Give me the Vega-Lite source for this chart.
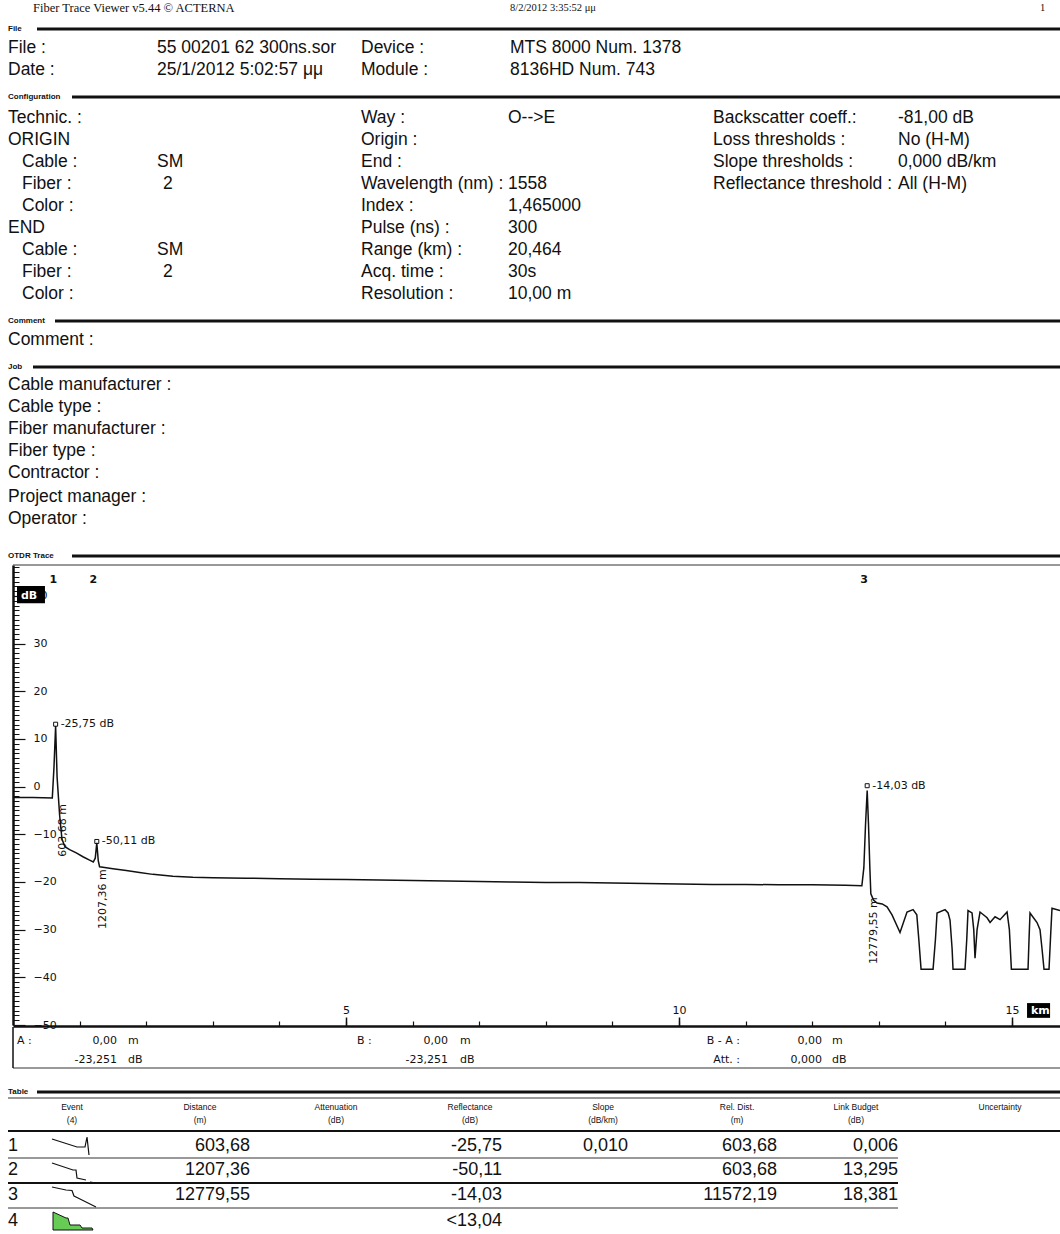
{
  "$schema": "https://vega.github.io/schema/vega-lite/v6.json",
  "width": 1060,
  "height": 1234,
  "autosize": "none",
  "padding": 0,
  "background": "white",
  "config": {"view": {"stroke": null}},
  "datasets": {
    "header": [
      {"tab": 4, "row": 0, "text": "Fiber Trace Viewer v5.44 © ACTERNA", "part": "title"},
      {"tab": 22, "row": 0, "text": "8/2/2012 3:35:52 μμ", "part": "date"},
      {"tab": 34, "row": 0, "text": "1", "part": "page"}
    ],
    "sections": [
      {"row": 1, "tab": 0, "from": 5, "text": "File"},
      {"row": 4, "tab": 0, "from": 7, "text": "Configuration"},
      {"row": 14, "tab": 0, "from": 6, "text": "Comment"},
      {"row": 16, "tab": 0, "from": 4, "text": "Job"},
      {"row": 24, "tab": 0, "from": 7, "text": "OTDR Trace"},
      {"row": 30, "tab": 0, "from": 5, "text": "Table"}
    ],
    "fields": [
      {"row": 2, "tab": 0, "text": "File :"},
      {"row": 2, "tab": 10, "text": "55 00201 62 300ns.sor"},
      {"row": 2, "tab": 16, "text": "Device :"},
      {"row": 2, "tab": 22, "text": "MTS 8000 Num. 1378"},
      {"row": 3, "tab": 0, "text": "Date :"},
      {"row": 3, "tab": 10, "text": "25/1/2012 5:02:57 μμ"},
      {"row": 3, "tab": 16, "text": "Module :"},
      {"row": 3, "tab": 22, "text": "8136HD Num. 743"},
      {"row": 5, "tab": 0, "text": "Technic. :"},
      {"row": 5, "tab": 16, "text": "Way :"},
      {"row": 5, "tab": 21, "text": "O-->E"},
      {"row": 5, "tab": 25, "text": "Backscatter coeff.:"},
      {"row": 5, "tab": 32, "text": "-81,00 dB"},
      {"row": 6, "tab": 0, "text": "ORIGIN"},
      {"row": 6, "tab": 16, "text": "Origin :"},
      {"row": 6, "tab": 25, "text": "Loss thresholds :"},
      {"row": 6, "tab": 32, "text": "No (H-M)"},
      {"row": 7, "tab": 3, "text": "Cable :"},
      {"row": 7, "tab": 10, "text": "SM"},
      {"row": 7, "tab": 16, "text": "End :"},
      {"row": 7, "tab": 25, "text": "Slope thresholds :"},
      {"row": 7, "tab": 32, "text": "0,000 dB/km"},
      {"row": 8, "tab": 3, "text": "Fiber :"},
      {"row": 8, "tab": 11, "text": "2"},
      {"row": 8, "tab": 16, "text": "Wavelength (nm) :"},
      {"row": 8, "tab": 21, "text": "1558"},
      {"row": 8, "tab": 25, "text": "Reflectance threshold :"},
      {"row": 8, "tab": 32, "text": "All (H-M)"},
      {"row": 9, "tab": 3, "text": "Color :"},
      {"row": 9, "tab": 16, "text": "Index :"},
      {"row": 9, "tab": 21, "text": "1,465000"},
      {"row": 10, "tab": 0, "text": "END"},
      {"row": 10, "tab": 16, "text": "Pulse (ns) :"},
      {"row": 10, "tab": 21, "text": "300"},
      {"row": 11, "tab": 3, "text": "Cable :"},
      {"row": 11, "tab": 10, "text": "SM"},
      {"row": 11, "tab": 16, "text": "Range (km) :"},
      {"row": 11, "tab": 21, "text": "20,464"},
      {"row": 12, "tab": 3, "text": "Fiber :"},
      {"row": 12, "tab": 11, "text": "2"},
      {"row": 12, "tab": 16, "text": "Acq. time :"},
      {"row": 12, "tab": 21, "text": "30s"},
      {"row": 13, "tab": 3, "text": "Color :"},
      {"row": 13, "tab": 16, "text": "Resolution :"},
      {"row": 13, "tab": 21, "text": "10,00 m"},
      {"row": 15, "tab": 0, "text": "Comment :"},
      {"row": 17, "tab": 0, "text": "Cable manufacturer :"},
      {"row": 18, "tab": 0, "text": "Cable type :"},
      {"row": 19, "tab": 0, "text": "Fiber manufacturer :"},
      {"row": 20, "tab": 0, "text": "Fiber type :"},
      {"row": 21, "tab": 0, "text": "Contractor :"},
      {"row": 22, "tab": 0, "text": "Project manager :"},
      {"row": 23, "tab": 0, "text": "Operator :"}
    ],
    "thin_rules": [
      {"row": 25, "tab": 1, "to": 35},
      {"row": 29, "tab": 1, "to": 35},
      {"row": 31, "tab": 0, "to": 35},
      {"row": 36, "tab": 0, "to": 32},
      {"row": 40, "tab": 0, "to": 32}
    ],
    "thick_rules": [
      {"row": 34, "tab": 0, "to": 35},
      {"row": 38, "tab": 0, "to": 32}
    ],
    "vrules": [
      {"tab": 1, "row": 26, "row2": 29}
    ],
    "cursor_left": [
      {"row": 27, "tab": 2, "text": "A :"},
      {"row": 27, "tab": 9, "text": "m"},
      {"row": 28, "tab": 9, "text": "dB"},
      {"row": 27, "tab": 15, "text": "B :"},
      {"row": 27, "tab": 18, "text": "m"},
      {"row": 28, "tab": 18, "text": "dB"},
      {"row": 27, "tab": 30, "text": "m"},
      {"row": 28, "tab": 30, "text": "dB"}
    ],
    "cursor_right": [
      {"row": 27, "tab": 8, "text": "0,00"},
      {"row": 28, "tab": 8, "text": "-23,251"},
      {"row": 27, "tab": 17, "text": "0,00"},
      {"row": 28, "tab": 17, "text": "-23,251"},
      {"row": 27, "tab": 27, "text": "B - A :"},
      {"row": 28, "tab": 27, "text": "Att. :"},
      {"row": 27, "tab": 29, "text": "0,00"},
      {"row": 28, "tab": 29, "text": "0,000"}
    ],
    "table_head": [
      {"row": 32, "tab": 7, "text": "Event"},
      {"row": 33, "tab": 7, "text": "(4)"},
      {"row": 32, "tab": 12, "text": "Distance"},
      {"row": 33, "tab": 12, "text": "(m)"},
      {"row": 32, "tab": 14, "text": "Attenuation"},
      {"row": 33, "tab": 14, "text": "(dB)"},
      {"row": 32, "tab": 19, "text": "Reflectance"},
      {"row": 33, "tab": 19, "text": "(dB)"},
      {"row": 32, "tab": 23, "text": "Slope"},
      {"row": 33, "tab": 23, "text": "(dB/km)"},
      {"row": 32, "tab": 26, "text": "Rel. Dist."},
      {"row": 33, "tab": 26, "text": "(m)"},
      {"row": 32, "tab": 31, "text": "Link Budget"},
      {"row": 33, "tab": 31, "text": "(dB)"},
      {"row": 32, "tab": 33, "text": "Uncertainty"}
    ],
    "table_num": [
      {"row": 35, "tab": 0, "text": "1"},
      {"row": 37, "tab": 0, "text": "2"},
      {"row": 39, "tab": 0, "text": "3"},
      {"row": 41, "tab": 0, "text": "4"}
    ],
    "table_cells": [
      {"row": 35, "tab": 13, "text": "603,68"},
      {"row": 35, "tab": 20, "text": "-25,75"},
      {"row": 35, "tab": 24, "text": "0,010"},
      {"row": 35, "tab": 28, "text": "603,68"},
      {"row": 35, "tab": 32, "text": "0,006"},
      {"row": 37, "tab": 13, "text": "1207,36"},
      {"row": 37, "tab": 20, "text": "-50,11"},
      {"row": 37, "tab": 28, "text": "603,68"},
      {"row": 37, "tab": 32, "text": "13,295"},
      {"row": 39, "tab": 13, "text": "12779,55"},
      {"row": 39, "tab": 20, "text": "-14,03"},
      {"row": 39, "tab": 28, "text": "11572,19"},
      {"row": 39, "tab": 32, "text": "18,381"},
      {"row": 41, "tab": 20, "text": "<13,04"}
    ],
    "trace": [
      {"m": 0, "db": -2.2}, {"m": 40, "db": -2.3}, {"m": 300, "db": -2.3}, {"m": 590, "db": -2.4},
      {"m": 615, "db": 4}, {"m": 640, "db": 12.7}, {"m": 662, "db": 2}, {"m": 700, "db": -6},
      {"m": 735, "db": -11.0}, {"m": 780, "db": -12.6}, {"m": 850, "db": -13.2}, {"m": 950, "db": -13.9},
      {"m": 1050, "db": -14.7}, {"m": 1150, "db": -15.4}, {"m": 1205, "db": -15.8}, {"m": 1235, "db": -15.0},
      {"m": 1258, "db": -11.8}, {"m": 1280, "db": -15.5}, {"m": 1300, "db": -16.8}, {"m": 1350, "db": -16.9},
      {"m": 1500, "db": -17.2}, {"m": 1700, "db": -17.6}, {"m": 1900, "db": -18.0}, {"m": 2100, "db": -18.4},
      {"m": 2400, "db": -18.8}, {"m": 2700, "db": -19.0}, {"m": 3000, "db": -19.1}, {"m": 3500, "db": -19.2},
      {"m": 4000, "db": -19.3}, {"m": 4500, "db": -19.4}, {"m": 5000, "db": -19.5}, {"m": 5500, "db": -19.6},
      {"m": 6000, "db": -19.7}, {"m": 6500, "db": -19.8}, {"m": 7000, "db": -19.9}, {"m": 7500, "db": -20.0},
      {"m": 8000, "db": -20.1}, {"m": 8500, "db": -20.1}, {"m": 9000, "db": -20.2}, {"m": 9500, "db": -20.3},
      {"m": 10000, "db": -20.4}, {"m": 10500, "db": -20.5}, {"m": 11000, "db": -20.5}, {"m": 11500, "db": -20.6},
      {"m": 12000, "db": -20.6}, {"m": 12500, "db": -20.7}, {"m": 12745, "db": -20.8}, {"m": 12775, "db": -17},
      {"m": 12800, "db": -8}, {"m": 12825, "db": -0.8}, {"m": 12845, "db": -8}, {"m": 12865, "db": -17},
      {"m": 12880, "db": -22.5}, {"m": 12920, "db": -23.8}, {"m": 12973, "db": -24.4}, {"m": 13050, "db": -24.6},
      {"m": 13123, "db": -25.2}, {"m": 13198, "db": -26.9}, {"m": 13318, "db": -30.6}, {"m": 13423, "db": -26.3},
      {"m": 13514, "db": -25.8}, {"m": 13570, "db": -26.9}, {"m": 13600, "db": -32}, {"m": 13634, "db": -38.3},
      {"m": 13814, "db": -38.3}, {"m": 13850, "db": -32}, {"m": 13874, "db": -26.5}, {"m": 13994, "db": -25.8},
      {"m": 14040, "db": -26.5}, {"m": 14069, "db": -28}, {"m": 14100, "db": -34}, {"m": 14114, "db": -38.3},
      {"m": 14294, "db": -38.3}, {"m": 14320, "db": -32}, {"m": 14339, "db": -26.0}, {"m": 14399, "db": -26.5},
      {"m": 14425, "db": -30}, {"m": 14444, "db": -36}, {"m": 14475, "db": -30}, {"m": 14519, "db": -26.3},
      {"m": 14625, "db": -27.5}, {"m": 14670, "db": -28.5}, {"m": 14745, "db": -27.3}, {"m": 14820, "db": -27.9},
      {"m": 14925, "db": -26.3}, {"m": 14960, "db": -30}, {"m": 14990, "db": -38.3}, {"m": 15240, "db": -38.3},
      {"m": 15255, "db": -32}, {"m": 15270, "db": -26.5}, {"m": 15375, "db": -28.5}, {"m": 15420, "db": -30},
      {"m": 15450, "db": -34}, {"m": 15480, "db": -38.3}, {"m": 15555, "db": -38.3}, {"m": 15580, "db": -31},
      {"m": 15600, "db": -25.5}, {"m": 15720, "db": -26}
    ],
    "peaks": [
      {"m": 640, "db": 13.1, "label": "-25,75 dB"},
      {"m": 1258, "db": -11.5, "label": "-50,11 dB"},
      {"m": 12825, "db": 0.2, "label": "-14,03 dB"}
    ],
    "event_ids": [
      {"m": 603.68, "db": 43.3, "event": "1"},
      {"m": 1207.36, "db": 43.3, "event": "2"},
      {"m": 12779.55, "db": 43.3, "event": "3"}
    ],
    "dist_labels": [
      {"m": 603.68, "db": -9.2, "label": "603,68 m"},
      {"m": 1207.36, "db": -23.6, "label": "1207,36 m"},
      {"m": 12779.55, "db": -30.2, "label": "12779,55 m"}
    ],
    "unit_boxes": [
      {"m": 60, "m2": 480, "db": 42.1, "db2": 38.5, "label": "dB"},
      {"m": 15225, "m2": 15571, "db": -45.4, "db2": -48.5, "label": "km"}
    ],
    "icon_lines": [
      {"seg": "1", "t": 0.04, "y": 0.72}, {"seg": "1", "t": 0.54, "y": 1.04}, {"seg": "1", "t": 0.70, "y": 1.04},
      {"seg": "1", "t": 0.74, "y": 0.64}, {"seg": "1", "t": 0.78, "y": 1.36},
      {"seg": "2a", "t": 0.04, "y": 1.68}, {"seg": "2a", "t": 0.46, "y": 1.96}, {"seg": "2a", "t": 0.52, "y": 1.96},
      {"seg": "2a", "t": 0.54, "y": 2.28}, {"seg": "2a", "t": 0.72, "y": 2.36},
      {"seg": "2b", "t": 0.80, "y": 2.44}, {"seg": "2b", "t": 0.92, "y": 2.48},
      {"seg": "3", "t": 0.04, "y": 2.64}, {"seg": "3", "t": 0.32, "y": 2.76}, {"seg": "3", "t": 0.44, "y": 2.78},
      {"seg": "3", "t": 0.48, "y": 3.0}, {"seg": "3", "t": 0.56, "y": 3.08}, {"seg": "3", "t": 0.92, "y": 3.44}
    ],
    "icon_fill": [
      {"t": 0.06, "y": 3.64}, {"t": 0.32, "y": 3.88}, {"t": 0.36, "y": 3.88}, {"t": 0.40, "y": 4.16},
      {"t": 0.60, "y": 4.16}, {"t": 0.64, "y": 4.28}, {"t": 0.84, "y": 4.28}, {"t": 0.86, "y": 4.36}
    ]
  },
  "layer": [
    {
      "encoding": {
        "x": {"field": "tab", "type": "quantitative", "axis": null,
          "scale": {"zero": false, "nice": false,
            "domain": [0,1,2,3,4,5,6,7,8,9,10,11,12,13,14,15,16,17,18,19,20,21,22,23,24,25,26,27,28,29,30,31,32,33,34,35],
            "range": [8,13,17,22,33,37,55,72,117,128,157,163,200,250,336,357,361,448,460,470,502,508,510,603,628,713,737,740,777,822,832,856,898,1000,1040,1060]}},
        "y": {"field": "row", "type": "quantitative", "axis": null,
          "scale": {"zero": false, "nice": false,
            "domain": [0,1,2,3,4,5,6,7,8,9,10,11,12,13,14,15,16,17,18,19,20,21,22,23,24,25,26,27,28,29,30,31,32,33,34,35,36,37,38,39,40,41],
            "range": [8,29,48,70,97,118,140,162,184,206,228,250,272,294,321,340,367,385,407,429,451,473,497,519,556,565,1027,1041,1060,1068,1092,1098,1107,1120,1131,1146,1158,1170,1183,1195,1208,1221]}}
      },
      "layer": [
        {"data": {"name": "header"}, "transform": [{"filter": "datum.part === 'title'"}],
          "mark": {"type": "text", "align": "left", "baseline": "middle", "font": "Liberation Serif", "fontSize": 12.5, "color": "#111"},
          "encoding": {"text": {"field": "text"}}},
        {"data": {"name": "header"}, "transform": [{"filter": "datum.part !== 'title'"}],
          "mark": {"type": "text", "align": "left", "baseline": "middle", "font": "Liberation Serif", "fontSize": 10.5, "color": "#111"},
          "encoding": {"text": {"field": "text"}}},
        {"data": {"name": "sections"}, "mark": {"type": "text", "align": "left", "baseline": "middle", "font": "Liberation Sans", "fontSize": 8, "fontWeight": "bold", "color": "#111"},
          "encoding": {"text": {"field": "text"}}},
        {"data": {"name": "sections"}, "mark": {"type": "rule", "color": "#111", "strokeWidth": 3},
          "encoding": {"x": {"field": "from", "type": "quantitative", "axis": null}, "x2": {"datum": 35}}},
        {"data": {"name": "thin_rules"}, "mark": {"type": "rule", "color": "#333", "strokeWidth": 1},
          "encoding": {"x2": {"field": "to"}}},
        {"data": {"name": "thick_rules"}, "mark": {"type": "rule", "color": "#111", "strokeWidth": 2},
          "encoding": {"x2": {"field": "to"}}},
        {"data": {"name": "vrules"}, "mark": {"type": "rule", "color": "#111", "strokeWidth": 1.5},
          "encoding": {"y2": {"field": "row2"}}},
        {"data": {"name": "fields"}, "mark": {"type": "text", "align": "left", "baseline": "middle", "font": "Liberation Sans", "fontSize": 17.5, "color": "#111"},
          "encoding": {"text": {"field": "text"}}},
        {"data": {"name": "cursor_left"}, "mark": {"type": "text", "align": "left", "baseline": "middle", "font": "DejaVu Sans", "fontSize": 11, "color": "#111"},
          "encoding": {"text": {"field": "text"}}},
        {"data": {"name": "cursor_right"}, "mark": {"type": "text", "align": "right", "baseline": "middle", "font": "DejaVu Sans", "fontSize": 11, "color": "#111"},
          "encoding": {"text": {"field": "text"}}},
        {"data": {"name": "table_head"}, "mark": {"type": "text", "align": "center", "baseline": "middle", "font": "Liberation Sans", "fontSize": 8.5, "color": "#111"},
          "encoding": {"text": {"field": "text"}}},
        {"data": {"name": "table_num"}, "mark": {"type": "text", "align": "left", "baseline": "middle", "font": "Liberation Sans", "fontSize": 18, "color": "#111"},
          "encoding": {"text": {"field": "text"}}},
        {"data": {"name": "table_cells"}, "mark": {"type": "text", "align": "right", "baseline": "middle", "font": "Liberation Sans", "fontSize": 18, "color": "#111"},
          "encoding": {"text": {"field": "text"}}}
      ]
    },
    {
      "data": {"name": "trace"},
      "mark": {"type": "line", "strokeOpacity": 0},
      "encoding": {
        "x": {"field": "m", "type": "quantitative",
          "scale": {"domain": [0, 15720], "range": [13, 1060], "zero": false, "nice": false},
          "axis": {"orient": "bottom", "offset": -208, "values": [1000,2000,3000,4000,5000,6000,7000,8000,9000,10000,11000,12000,13000,14000,15000],
            "tickSize": -5, "tickColor": "#111", "tickWidth": 1.2, "domainColor": "#111", "domainWidth": 2.5, "grid": false, "title": null,
            "labelExpr": "datum.value % 5000 === 0 ? format(datum.value / 1000, 'd') : ''",
            "labelBaseline": "bottom", "labelPadding": -6, "labelFont": "DejaVu Sans", "labelFontSize": 11, "labelColor": "#111",
            "labelOverlap": false, "labelFlush": false, "labelBound": false}},
        "y": {"field": "db", "type": "quantitative",
          "scale": {"domain": [-50, 46.5], "range": [1025, 565], "zero": false, "nice": false},
          "axis": {"orient": "left", "offset": -13, "values": [-50,-40,-30,-20,-10,0,10,20,30,40],
            "tickSize": -12, "tickColor": "#111", "tickWidth": 1.2, "domainColor": "#111", "domainWidth": 2.5, "grid": false, "title": null,
            "labelAlign": "left", "labelBaseline": "middle", "labelPadding": -8, "labelFont": "DejaVu Sans", "labelFontSize": 11, "labelColor": "#111",
            "labelOverlap": false, "labelFlush": false, "labelBound": false}}
      }
    },
    {
      "data": {"name": "trace"},
      "mark": {"type": "line", "strokeOpacity": 0},
      "encoding": {
        "x": {"field": "m", "type": "quantitative", "scale": {"domain": [0, 15720], "range": [13, 1060], "zero": false, "nice": false},
          "axis": {"orient": "bottom", "offset": -208, "domain": false, "labels": false, "grid": false, "title": null, "tickSize": -9, "tickColor": "#111", "tickWidth": 1.5,
            "values": [5000, 10000, 15000]}},
        "y": {"field": "db", "type": "quantitative",
          "scale": {"domain": [-50, 46.5], "range": [1025, 565], "zero": false, "nice": false},
          "axis": {"orient": "left", "offset": -13, "domain": false, "labels": false, "grid": false, "title": null, "tickSize": -6, "tickColor": "#111", "tickWidth": 1,
            "values": [-50,-49,-48,-47,-46,-45,-44,-43,-42,-41,-40,-39,-38,-37,-36,-35,-34,-33,-32,-31,-30,-29,-28,-27,-26,-25,-24,-23,-22,-21,-20,-19,-18,-17,-16,-15,-14,-13,-12,-11,-10,-9,-8,-7,-6,-5,-4,-3,-2,-1,0,1,2,3,4,5,6,7,8,9,10,11,12,13,14,15,16,17,18,19,20,21,22,23,24,25,26,27,28,29,30,31,32,33,34,35,36,37,38,39,40,41,42,43,44,45,46]}}
      }
    },
    {
      "encoding": {
        "x": {"field": "m", "type": "quantitative", "scale": {"domain": [0, 15720], "range": [13, 1060], "zero": false, "nice": false}, "axis": null},
        "y": {"field": "db", "type": "quantitative", "scale": {"domain": [-50, 46.5], "range": [1025, 565], "zero": false, "nice": false}, "axis": null}
      },
      "layer": [
        {"data": {"name": "trace"}, "mark": {"type": "line", "color": "#111", "strokeWidth": 1.5}},
        {"data": {"name": "peaks"}, "mark": {"type": "point", "shape": "square", "size": 16, "filled": false, "color": "#111", "strokeWidth": 1, "opacity": 1}},
        {"data": {"name": "peaks"}, "mark": {"type": "text", "align": "left", "baseline": "middle", "dx": 5, "font": "DejaVu Sans", "fontSize": 11, "color": "#111"},
          "encoding": {"text": {"field": "label"}}},
        {"data": {"name": "event_ids"}, "mark": {"type": "text", "align": "center", "baseline": "middle", "font": "DejaVu Sans", "fontSize": 11, "fontWeight": "bold", "color": "#111"},
          "encoding": {"text": {"field": "event"}}},
        {"data": {"name": "dist_labels"}, "mark": {"type": "text", "align": "center", "baseline": "middle", "angle": 270, "dy": 10, "font": "DejaVu Sans", "fontSize": 11, "color": "#111"},
          "encoding": {"text": {"field": "label"}}},
        {"data": {"name": "unit_boxes"}, "mark": {"type": "rect", "color": "#000"},
          "encoding": {"x2": {"field": "m2"}, "y2": {"field": "db2"}}},
        {"data": {"name": "unit_boxes"}, "mark": {"type": "text", "color": "white", "align": "left", "baseline": "bottom", "dx": 4, "dy": -2, "font": "DejaVu Sans", "fontSize": 11, "fontWeight": "bold"},
          "encoding": {"y": {"field": "db2", "type": "quantitative", "axis": null}, "text": {"field": "label"}}}
      ]
    },
    {
      "encoding": {
        "x": {"field": "t", "type": "quantitative", "scale": {"domain": [0, 1], "range": [50, 100], "zero": false, "nice": false}, "axis": null},
        "y": {"field": "y", "type": "quantitative", "scale": {"domain": [1, 4], "range": [1146, 1221], "zero": false, "nice": false}, "axis": null}
      },
      "layer": [
        {"data": {"name": "icon_fill"}, "mark": {"type": "area", "fill": "#66cc55", "stroke": "#111", "strokeWidth": 1},
          "encoding": {"y2": {"datum": 4.36}}},
        {"data": {"name": "icon_lines"}, "mark": {"type": "line", "color": "#111", "strokeWidth": 1.2},
          "encoding": {"detail": {"field": "seg"}}}
      ]
    }
  ],
  "resolve": {"scale": {"x": "independent", "y": "independent"}, "axis": {"x": "independent", "y": "independent"}}
}
